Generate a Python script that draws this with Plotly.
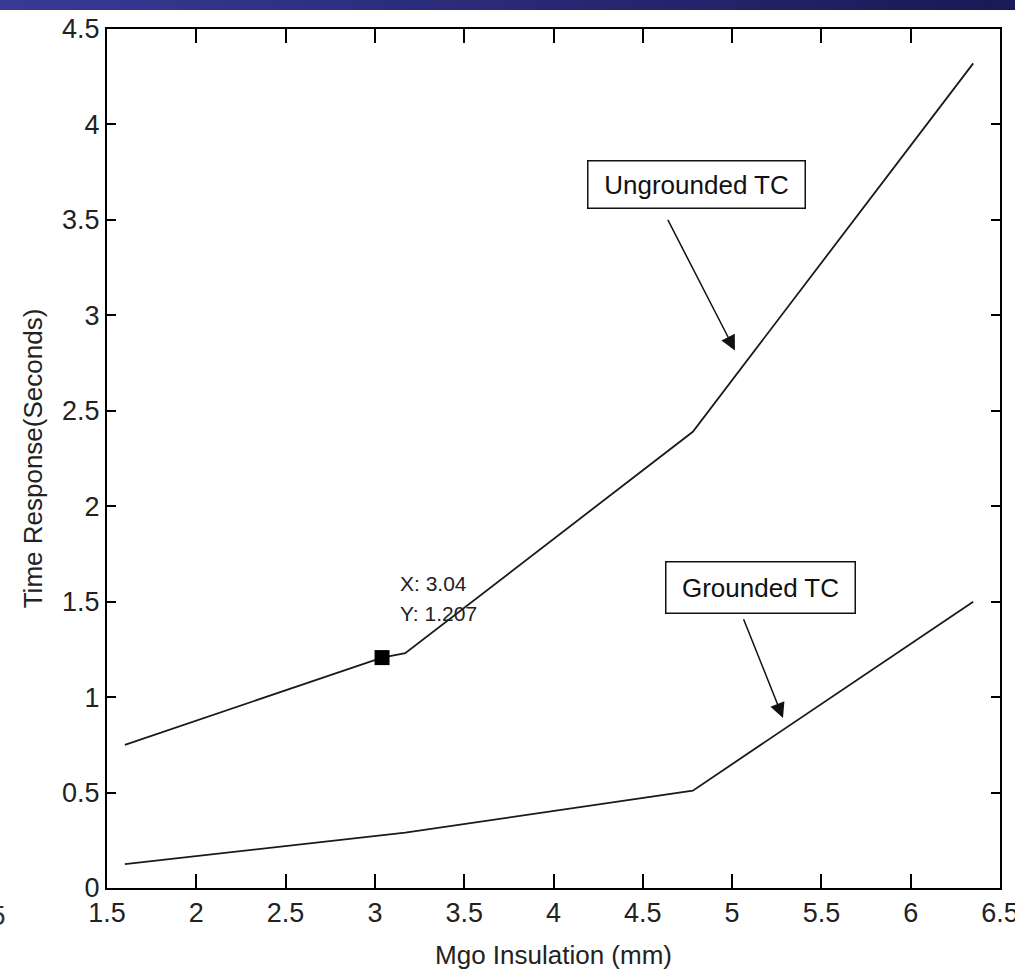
import plotly.graph_objects as go

# ---- data ----
ungrounded_x = [1.6, 3.04, 3.17, 4.78, 6.35]
ungrounded_y = [0.75, 1.207, 1.23, 2.39, 4.32]
grounded_x = [1.6, 3.17, 4.78, 6.35]
grounded_y = [0.125, 0.29, 0.51, 1.50]
datatip_x = [3.04]
datatip_y = [1.207]
x_ticks = [1.5, 2, 2.5, 3, 3.5, 4, 4.5, 5, 5.5, 6, 6.5]
y_ticks = [0, 0.5, 1, 1.5, 2, 2.5, 3, 3.5, 4, 4.5]
x_title = "Mgo Insulation (mm)"
y_title = "Time Response(Seconds)"

REG = "Liberation Sans, Arial, sans-serif"

fig = go.Figure()
fig.add_trace(go.Scatter(x=ungrounded_x, y=ungrounded_y, mode="lines",
                         line=dict(color="#1a1a1a", width=1.8), showlegend=False))
fig.add_trace(go.Scatter(x=grounded_x, y=grounded_y, mode="lines",
                         line=dict(color="#1a1a1a", width=1.8), showlegend=False))
fig.add_trace(go.Scatter(x=datatip_x, y=datatip_y, mode="markers",
                         marker=dict(symbol="square", size=15, color="black"),
                         showlegend=False))

annotations = [
    dict(x=4.80, y=3.686, xref="x", yref="y", text="Ungrounded TC", showarrow=False,
         font=dict(family=REG, size=26, color="#111"),
         bordercolor="#111", borderwidth=1.5, borderpad=2, bgcolor="white",
         width=212, height=42),
    dict(x=5.16, y=1.576, xref="x", yref="y", text="Grounded TC", showarrow=False,
         font=dict(family=REG, size=26, color="#111"),
         bordercolor="#111", borderwidth=1.5, borderpad=2, bgcolor="white",
         width=184, height=46),
    dict(x=5.016, y=2.816, ax=4.636, ay=3.508, xref="x", yref="y", axref="x", ayref="y",
         text="", showarrow=True, arrowhead=2, arrowsize=2, arrowwidth=1.5,
         arrowcolor="#111"),
    dict(x=5.285, y=0.891, ax=5.061, ay=1.416, xref="x", yref="y", axref="x", ayref="y",
         text="", showarrow=True, arrowhead=2, arrowsize=2, arrowwidth=1.5,
         arrowcolor="#111"),
    dict(x=3.129, y=1.594, xref="x", yref="y", text="X: 3.04", showarrow=False,
         xanchor="left", font=dict(family=REG, size=21, color="#222")),
    dict(x=3.129, y=1.437, xref="x", yref="y", text="Y: 1.207", showarrow=False,
         xanchor="left", font=dict(family=REG, size=21, color="#222")),
    dict(x=-0.111, y=-0.012, xref="paper", yref="paper", text="5", showarrow=False,
         xanchor="right", yanchor="top", font=dict(family=REG, size=28, color="#333")),
]

# top gradient bar (decoration)
shapes = []
n = 40
c0 = (58, 58, 150)
c1 = (26, 26, 88)
pw = 893.0
ph = 859.0
for i in range(n):
    t = i / (n - 1)
    col = "rgb(%d,%d,%d)" % tuple(int(c0[k] + (c1[k] - c0[k]) * t) for k in range(3))
    x0 = (-107 + 1015 * i / n) / pw
    x1 = (-107 + 1015 * (i + 1) / n + 1) / pw
    shapes.append(dict(type="rect", xref="paper", yref="paper", x0=x0, x1=x1,
                       y0=1 + 19 / ph, y1=1 + 30 / ph, fillcolor=col,
                       line=dict(width=0), layer="above"))

axis_common = dict(showline=True, linecolor="black", linewidth=2, mirror="ticks",
                   ticks="inside", tickcolor="black", tickwidth=1.5,
                   showgrid=False, zeroline=False, automargin=False)

fig.update_layout(
    width=1015, height=977,
    margin=dict(l=107, r=15, t=29, b=89, autoexpand=False),
    paper_bgcolor="white", plot_bgcolor="white",
    xaxis=dict(range=[1.5, 6.5], tickvals=x_ticks,
               ticktext=[("%g" % v) for v in x_ticks], ticklen=14,
               ticklabeloverflow="allow",
               tickfont=dict(family=REG, size=27, color="#222"),
               title=dict(text=x_title, font=dict(family=REG, size=26, color="#222"),
                          standoff=18),
               **axis_common),
    yaxis=dict(range=[0, 4.5], tickvals=y_ticks,
               ticktext=[("%g" % v) for v in y_ticks], ticklen=9,
               tickfont=dict(family=REG, size=27, color="#222"),
               title=dict(text=y_title, font=dict(family=REG, size=26, color="#222"),
                          standoff=12),
               **axis_common),
    annotations=annotations,
    shapes=shapes,
)

fig.write_html("out.html")
